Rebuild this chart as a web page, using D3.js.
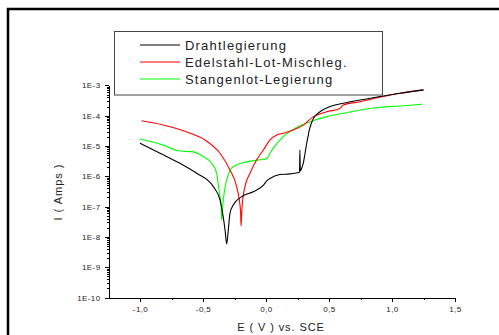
<!DOCTYPE html>
<html>
<head>
<meta charset="utf-8">
<script src="https://cdn.jsdelivr.net/npm/d3@7/dist/d3.min.js"></script>
<style>
  html, body { margin: 0; padding: 0; background: #fff; }
  svg { display: block; font-family: "Liberation Sans", Arial, sans-serif; }
  .axis path, .axis line { stroke: #000; stroke-width: 1; shape-rendering: crispEdges; }
  .axis text { fill: #222; font-size: 8px; letter-spacing: 0.4px; }
</style>
</head>
<body>
<script>
// --- data: potential E (V vs. SCE) and current I (A) ---
var seriesNames = ["Drahtlegierung", "Edelstahl-Lot-Mischleg.", "Stangenlot-Legierung"];
var seriesColors = ["#000000", "#ff0000", "#00ff00"];

var drahtE = [-1.0, -0.841, -0.683, -0.55, -0.418, -0.365, -0.344, -0.325, -0.312, -0.299, -0.286,
  -0.26, -0.193, -0.101, -0.02, 0.006, 0.032, 0.111, 0.19, 0.266, 0.269, 0.272, 0.276, 0.296,
  0.31, 0.323, 0.336, 0.344, 0.376, 0.429, 0.508, 0.613, 0.746, 0.905, 1.063, 1.25];
var drahtI = [1.23e-5, 5.75e-6, 2.69e-6, 1.26e-6, 4.57e-7, 1.66e-7, 6.0e-8, 1.7e-8, 5.9e-9, 1.7e-8, 6.0e-8,
  1.12e-7, 2.14e-7, 3.1e-7, 5.1e-7, 7.1e-7, 8.5e-7, 1.15e-6, 1.2e-6, 1.35e-6, 7.4e-6, 1.5e-6, 1.6e-6, 2.7e-6,
  5.75e-6, 1.23e-5, 2.3e-5, 3.4e-5, 8.1e-5, 1.35e-4, 2.0e-4, 2.57e-4, 3.3e-4, 4.3e-4, 5.5e-4, 7.1e-4];

var edelE = [-0.987, -0.815, -0.603, -0.484, -0.365, -0.286, -0.233, -0.212, -0.201, -0.198, -0.19,
  -0.167, -0.127, -0.074, -0.021, 0.032, 0.085, 0.137, 0.217, 0.296, 0.376, 0.482, 0.587, 0.613,
  0.746, 0.931, 1.063, 1.25];
var edelI = [6.8e-5, 4.9e-5, 2.63e-5, 1.58e-5, 5.75e-6, 1.62e-6, 4.57e-7, 1.66e-7, 6.0e-8, 2.3e-8, 1.0e-7,
  4.57e-7, 1.26e-6, 3.5e-6, 7.4e-6, 1.58e-5, 2.3e-5, 2.63e-5, 3.4e-5, 4.9e-5, 9.3e-5, 1.35e-4, 1.74e-4, 2.24e-4,
  2.9e-4, 4.3e-4, 5.5e-4, 7.1e-4];

var stangE = [-1.0, -0.815, -0.683, -0.587, -0.498, -0.431, -0.391, -0.379, -0.365, -0.355, -0.352,
  -0.339, -0.312, -0.259, -0.153, -0.048, 0.006, 0.032, 0.058, 0.137, 0.244, 0.349, 0.482, 0.613,
  0.746, 0.905, 1.063, 1.24];
var stangI = [1.7e-5, 1.07e-5, 6.8e-6, 6.5e-6, 4.5e-6, 2.7e-6, 1.26e-6, 5.1e-7, 2.14e-7, 1.0e-7, 3.6e-8,
  1.66e-7, 7.6e-7, 2.1e-6, 3.0e-6, 3.5e-6, 3.9e-6, 5.75e-6, 8.5e-6, 2.04e-5, 4.1e-5, 6.3e-5, 9.3e-5, 1.2e-4,
  1.55e-4, 1.9e-4, 2.1e-4, 2.4e-4];

var xMajor = [-1.0, -0.5, 0.0, 0.5, 1.0, 1.5];
var xMinor = [-0.75, -0.25, 0.25, 0.75, 1.25];
var yMajor = [1e-10, 1e-9, 1e-8, 1e-7, 1e-6, 1e-5, 1e-4, 1e-3];
var yMajorLabels = ["1E-10", "1E-9", "1E-8", "1E-7", "1E-6", "1E-5", "1E-4", "1E-3"];

var W = 499, H = 335;
var svg = d3.select("body").append("svg").attr("width", W).attr("height", H);

// outer frame (runs off the right and bottom edges)
svg.append("rect")
  .attr("x", 8).attr("y", 9).attr("width", 600).attr("height", 400)
  .attr("fill", "none").attr("stroke", "#000").attr("stroke-width", 2.5);

var x = d3.scaleLinear().domain([-1.25, 1.5]).range([108.5, 455]);
var y = d3.scaleLog().domain([1e-10, 1e-3]).range([297.5, 85.4]);

// minor log ticks: 2..9 within each decade
var yMinor = [];
yMajor.slice(0, -1).forEach(function (d) {
  for (var k = 2; k <= 9; k++) yMinor.push(d * k);
});

// --- axes ---------------------------------------------------------
var gx = svg.append("g").attr("class", "axis").attr("transform", "translate(0," + y(1e-10) + ")");
gx.call(d3.axisBottom(x).tickValues(xMajor).tickSize(4).tickSizeOuter(0).tickPadding(5)
  .tickFormat(function (d) { return d3.format(".1f")(d).replace(".", ",").replace("−", "-"); }));
svg.append("g").attr("class", "axis").attr("transform", "translate(0," + y(1e-10) + ")")
  .call(d3.axisBottom(x).tickValues(xMinor).tickSize(2.5).tickSizeOuter(0).tickFormat(""))
  .select(".domain").remove();

var gy = svg.append("g").attr("class", "axis").attr("transform", "translate(" + x(-1.25) + ",0)");
gy.call(d3.axisLeft(y).tickValues(yMajor).tickSize(4).tickSizeOuter(0).tickPadding(4)
  .tickFormat(function (d, i) { return yMajorLabels[i]; }));
svg.append("g").attr("class", "axis").attr("transform", "translate(" + x(-1.25) + ",0)")
  .call(d3.axisLeft(y).tickValues(yMinor).tickSize(2).tickSizeOuter(0).tickFormat(""))
  .select(".domain").remove();

// axis titles
svg.append("text")
  .attr("x", 281).attr("y", 330.5).attr("text-anchor", "middle")
  .style("font-size", "11px").style("letter-spacing", "0.9px").attr("fill", "#222")
  .text("E ( V ) vs. SCE");
svg.append("text")
  .attr("transform", "translate(62,192) rotate(-90)").attr("text-anchor", "middle")
  .style("font-size", "11px").style("letter-spacing", "1px").attr("fill", "#222")
  .text("I ( Amps )");

// --- curves -------------------------------------------------------
var line = d3.line()
  .x(function (d) { return x(d[0]); })
  .y(function (d) { return y(d[1]); })
  .curve(d3.curveMonotoneX);

var series = [
  { E: drahtE, I: drahtI },
  { E: edelE, I: edelI },
  { E: stangE, I: stangI }
];
// draw green first, then red, black on top
[2, 1, 0].forEach(function (k) {
  var s = series[k];
  var pts = s.E.map(function (e, i) { return [e, s.I[i]]; });
  svg.append("path")
    .attr("d", line(pts))
    .attr("fill", "none")
    .attr("stroke", seriesColors[k])
    .attr("stroke-width", 1.1)
    .attr("stroke-linejoin", "round");
});

// --- legend -------------------------------------------------------
svg.append("rect")
  .attr("x", 114.5).attr("y", 31.5).attr("width", 268).attr("height", 63.5)
  .attr("fill", "#fff").attr("stroke", "#444").attr("stroke-width", 1);
var legY = [45, 62, 79];
seriesNames.forEach(function (name, i) {
  svg.append("line")
    .attr("x1", 140).attr("x2", 180).attr("y1", legY[i]).attr("y2", legY[i])
    .attr("stroke", seriesColors[i]).attr("stroke-width", 1.1);
  svg.append("text")
    .attr("x", 185).attr("y", legY[i] + 4.5)
    .style("font-size", "13px").style("letter-spacing", "1.2px").attr("fill", "#222")
    .text(name);
});
</script>
</body>
</html>
